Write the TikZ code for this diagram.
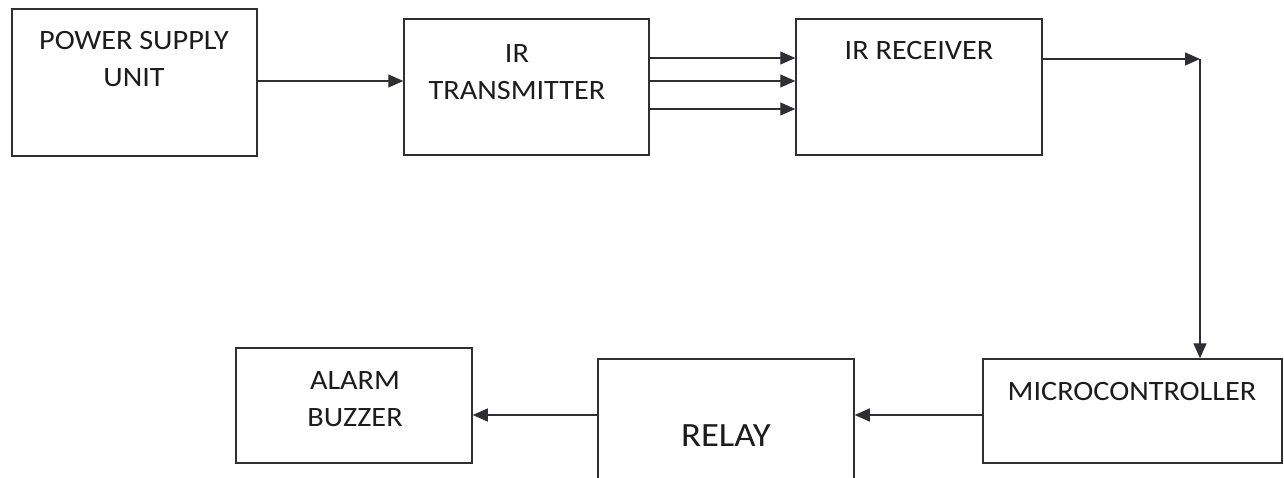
\documentclass[tikz,border=0pt]{standalone}
\usepackage{fontspec}
\setmainfont{Carlito}[FakeStretch=1.08]
\usetikzlibrary{arrows.meta}
\definecolor{ln}{HTML}{2E2E33}
\definecolor{tx}{HTML}{1C1C1C}
\begin{document}
\begin{tikzpicture}[x=1pt,y=-1pt,
  blk/.style={draw=ln,line width=1.5pt,rectangle,inner sep=0pt},
  lbl/.style={text=tx,align=center,inner sep=0pt,font=\fontsize{28}{37}\selectfont},
  arr/.style={draw=ln,line width=1.4pt,-{Triangle[length=15pt,width=13pt]}}]
\useasboundingbox[fill=white] (0,0) rectangle (1284,478);
% boxes
\node[blk,minimum width=245pt,minimum height=147pt] (psu) at (134.5,82.5) {};
\node[blk,minimum width=245pt,minimum height=136pt] (tx) at (526.5,87) {};
\node[blk,minimum width=246pt,minimum height=136pt] (rx) at (919,87) {};
\node[blk,minimum width=299pt,minimum height=104pt] (mcu) at (1132.5,411) {};
\node[blk,minimum width=256pt,minimum height=124pt] (relay) at (726,421) {};
\node[blk,minimum width=236pt,minimum height=115pt] (alarm) at (354,405.5) {};
% labels
\node[lbl] (psut) at (134,59) {POWER SUPPLY\\UNIT};
\node[lbl] (txt) at (517,72) {IR\\TRANSMITTER};
\node[lbl] (rxt) at (919,51) {IR RECEIVER};
\node[lbl] (mcut) at (1132,391.5) {MICROCONTROLLER};
\node[lbl,font=\fontsize{34}{40}\selectfont] (relayt) at (726,436) {RELAY};
\node[lbl] (alarmt) at (355,399) {ALARM\\BUZZER};
% connectors
\draw[arr] (psu.east |- 0,81) -- (tx.west |- 0,81);
\draw[arr] (tx.east |- 0,58) -- (rx.west |- 0,58);
\draw[arr] (tx.east |- 0,81) -- (rx.west |- 0,81);
\draw[arr] (tx.east |- 0,109) -- (rx.west |- 0,109);
\coordinate (corner) at (1200,59);
\draw[arr] (rx.east |- corner) -- (corner);
\draw[arr] (corner) -- (corner |- mcu.north);
\draw[arr] (mcu.west |- 0,415) -- (relay.east |- 0,415);
\draw[arr] (relay.west |- 0,415) -- (alarm.east |- 0,415);
\end{tikzpicture}
\end{document}
